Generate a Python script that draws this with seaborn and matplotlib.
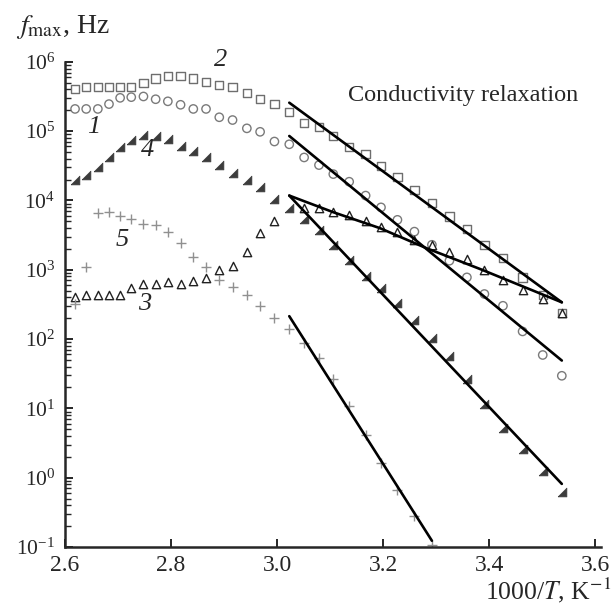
import numpy as np
import pandas as pd
import matplotlib
matplotlib.use("Agg")
import matplotlib.pyplot as plt
import seaborn as sns

# 1000/T values (K^-1), shared by all series
x_pts = [2.619, 2.640, 2.662, 2.683, 2.704, 2.725, 2.748, 2.771, 2.794, 2.818,
         2.842, 2.866, 2.891, 2.916, 2.943, 2.968, 2.995, 3.023, 3.051, 3.079,
         3.106, 3.136, 3.167, 3.196, 3.227, 3.259, 3.292, 3.325, 3.358, 3.391,
         3.426, 3.463, 3.501, 3.537]

# log10(f_max / Hz) for each curve
log_f1 = [5.32, 5.32, 5.32, 5.39, 5.48, 5.49, 5.50, 5.46, 5.43, 5.38,
          5.32, 5.32, 5.20, 5.16, 5.04, 4.99, 4.85, 4.81, 4.62, 4.51,
          4.38, 4.27, 4.07, 3.90, 3.72, 3.55, 3.36, 3.13, 2.89, 2.65,
          2.48, 2.11, 1.77, 1.47]
log_f2 = [5.61, 5.635, 5.64, 5.64, 5.64, 5.64, 5.69, 5.76, 5.80, 5.80,
          5.76, 5.71, 5.67, 5.635, 5.55, 5.46, 5.39, 5.28, 5.12, 5.06,
          4.93, 4.77, 4.67, 4.50, 4.34, 4.15, 3.96, 3.77, 3.59, 3.36,
          3.17, 2.89, 2.64, 2.38]
log_f3 = [2.61, 2.63, 2.64, 2.64, 2.64, 2.73, 2.80, 2.80, 2.82, 2.80,
          2.84, 2.88, 2.99, 3.05, 3.26, 3.53, 3.71, np.nan, 3.89, 3.89,
          3.83, 3.79, 3.71, 3.61, 3.54, 3.43, 3.36, 3.25, 3.15, 3.00,
          2.85, 2.71, 2.58, 2.38]
log_f4 = [4.29, 4.37, 4.48, 4.62, 4.77, 4.87, 4.95, 4.93, 4.88, 4.78,
          4.72, 4.62, 4.51, 4.40, 4.30, 4.19, 4.02, 3.89, 3.73, 3.57,
          3.36, 3.14, 2.91, 2.73, 2.52, 2.27, 2.01, 1.76, 1.43, 1.07,
          0.72, 0.41, 0.10, -0.21]
log_f5 = [2.51, 3.04, 3.82, 3.84, 3.78, 3.73, 3.66, 3.65, 3.54, 3.39,
          3.19, 3.04, 2.85, 2.75, 2.64, 2.47, 2.30, 2.15, 1.94, 1.72,
          1.42, 1.03, 0.62, 0.21, -0.18, -0.56, -0.97]

# fitted lines (conductivity relaxation)
fit1_x = [3.023, 3.537]; fit1_y = [4.93, 1.69]
fit2_x = [3.023, 3.537]; fit2_y = [5.41, 2.53]
fit3_x = [3.023, 3.106, 3.194, 3.282, 3.383, 3.537]
fit3_y = [4.07, 3.83, 3.60, 3.31, 3.01, 2.53]
fit4_x = [3.023, 3.537]; fit4_y = [4.07, -0.09]
fit5_x = [3.023, 3.292]; fit5_y = [2.33, -0.91]

x_ticks = [2.6, 2.8, 3.0, 3.2, 3.4, 3.6]
x_ticklabels = ["2.6", "2.8", "3.0", "3.2", "3.4", "3.6"]


def to_df(xs, logs):
    return pd.DataFrame({"x": xs[:len(logs)], "f": 10 ** np.array(logs, dtype=float)}).dropna()


sns.set_style("ticks")
plt.rcParams["font.family"] = ["Liberation Serif", "DejaVu Serif"]
plt.rcParams["mathtext.fontset"] = "stix"

fig = plt.figure(figsize=(6.13, 6.06), dpi=100)
ax = fig.add_axes([0.106, 0.0974, 0.865, 0.8006])

right_tri = [(-1, -1), (1, -1), (1, 1), (-1, -1)]

sns.scatterplot(data=to_df(x_pts, log_f2), x="x", y="f", ax=ax, marker="s", s=36,
                facecolor="none", edgecolor="#6e6e6e", linewidth=1.0)
sns.scatterplot(data=to_df(x_pts, log_f1), x="x", y="f", ax=ax, marker="o", s=36,
                facecolor="none", edgecolor="#7a7a7a", linewidth=1.0)
sns.scatterplot(data=to_df(x_pts, log_f4), x="x", y="f", ax=ax, marker=right_tri, s=40,
                color="#3c3c3c", edgecolor="#3c3c3c", linewidth=0.5)
sns.scatterplot(data=to_df(x_pts, log_f3), x="x", y="f", ax=ax, marker="^", s=36,
                facecolor="white", edgecolor="#222222", linewidth=1.0)
sns.scatterplot(data=to_df(x_pts, log_f5), x="x", y="f", ax=ax, marker="+", s=55,
                color="#909090", linewidth=1.0)

for fx, fy in [(fit1_x, fit1_y), (fit2_x, fit2_y), (fit3_x, fit3_y),
               (fit4_x, fit4_y), (fit5_x, fit5_y)]:
    sns.lineplot(x=fx, y=10 ** np.array(fy), ax=ax, color="black", linewidth=1.9,
                 sort=False, estimator=None)

ax.set_yscale("log")
ax.set_xlim(2.6, 3.6)
ax.set_ylim(1e-1, 1e6)
ax.set_xticks(x_ticks)
ax.set_xticklabels(x_ticklabels)
ax.yaxis.set_major_locator(matplotlib.ticker.LogLocator(base=10, numticks=10))
ax.yaxis.set_minor_locator(matplotlib.ticker.LogLocator(base=10, subs=np.arange(2, 10), numticks=10))
ax.tick_params(axis="both", which="major", direction="in", length=6, width=1.4, pad=7)
ax.tick_params(axis="x", which="major", labelsize=17, pad=6)
ax.tick_params(axis="y", which="major", labelsize=15.5)
ax.tick_params(axis="y", which="minor", direction="in", length=4, width=1.0)
ax.tick_params(axis="x", which="minor", bottom=False)
ax.set_xlabel("")
ax.set_ylabel("")
sns.despine(ax=ax)
for sp in ["left", "bottom"]:
    ax.spines[sp].set_linewidth(1.8)
ax.spines["bottom"].set_bounds(2.6, 3.61)
ax.spines["bottom"].set_clip_on(False)

ax.text(3.568, 3.3e5, "Conductivity relaxation", fontsize=17.5, ha="right", va="center")
tx = dict(fontsize=19, style="italic", ha="center", va="center")
ax.text(2.655, 1.15e5, "1", **tx)
ax.text(2.894, 1.05e6, "2", **tx)
ax.text(2.751, 320, "3", **tx)
ax.text(2.755, 5.4e4, "4", **tx)
ax.text(2.708, 2700, "5", **tx)

fig.text(0.026, 0.955, r"$f_{\mathrm{max}}$, Hz", fontsize=20, ha="left", va="center")
fig.text(0.997, 0.002, r"1000/$T$, K$^{-1}$", fontsize=18.5, ha="right", va="bottom")

fig.savefig("out.png", dpi=100)
